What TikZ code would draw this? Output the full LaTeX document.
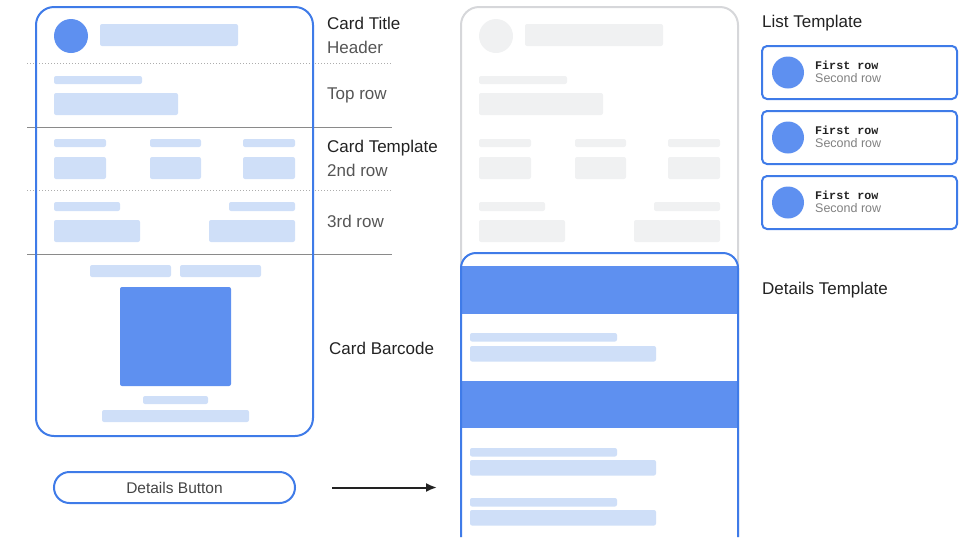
\documentclass[tikz,border=0pt]{standalone}
\usepackage{fontspec}
\setmainfont{Liberation Sans}
\setmonofont{Liberation Mono}
\usetikzlibrary{arrows.meta,positioning}
\definecolor{edgeblue}{HTML}{3F7BE8}
\definecolor{fillblue}{HTML}{5E90F0}
\definecolor{barblue}{HTML}{CFDFF8}
\definecolor{bargray}{HTML}{F0F1F2}
\definecolor{edgegray}{HTML}{D6D7DA}
\definecolor{rulegray}{HTML}{8A8A8A}
\definecolor{textdark}{HTML}{222222}
\definecolor{textsub}{HTML}{555555}
\tikzset{
  card/.style={draw=edgeblue,line width=2pt,rounded corners=18pt},
  bar/.style={rounded corners=2pt},
  sidetext/.style={anchor=west,inner sep=0pt,font=\fontsize{17}{20}\selectfont,text=textdark},
  sidesub/.style={sidetext,text=textsub},
  listitem/.style={draw=edgeblue,line width=2pt,rounded corners=5pt,minimum width=195pt,minimum height=53pt,inner sep=0pt},
  firsttext/.style={anchor=base west,inner sep=0pt,font=\ttfamily\bfseries\fontsize{11.7}{13}\selectfont,text=textdark},
  secondtext/.style={anchor=base west,inner sep=0pt,font=\fontsize{12.5}{14}\selectfont,text=gray},
  btn/.style={draw=edgeblue,line width=2pt,rounded corners=15.5pt,minimum width=241pt,minimum height=31pt,inner sep=0pt,font=\fontsize{15.5}{18}\selectfont,text=textsub!80!black},
}
% header, top row, 2nd row and 3rd row of a card
\newcommand{\cardrows}[2]{%
  \fill[#1] (71,36) circle (17pt);
  \fill[bar,#2] (100,24) rectangle (238,46);
  \fill[bar,#2] (54,76) rectangle (142,84);
  \fill[bar,#2] (54,93) rectangle (178,115);
  \foreach \xa/\xb in {54/106,150/201,243/295} {
    \fill[bar,#2] (\xa,139) rectangle (\xb,147);
    \fill[bar,#2] (\xa,157) rectangle (\xb,179);
  }
  \fill[bar,#2] (54,202) rectangle (120,211);
  \fill[bar,#2] (229,202) rectangle (295,211);
  \fill[bar,#2] (54,220) rectangle (140,242);
  \fill[bar,#2] (209,220) rectangle (295,242);
}

\begin{document}
\begin{tikzpicture}[x=1pt,y=-1pt]
\useasboundingbox (0,0) rectangle (980,558);

% section rules
\draw[dotted,rulegray!70,line width=1pt] (27,63) -- (392,63);
\draw[rulegray,line width=1pt] (27,127) -- (392,127);
\draw[dotted,rulegray!70,line width=1pt] (27,190) -- (392,190);
\draw[rulegray,line width=1pt] (27,254) -- (392,254);

% card
\draw[card] (36,7) rectangle (313,436);
\cardrows{fillblue}{barblue}
\fill[bar,barblue] (90,265) rectangle (171,277);
\fill[bar,barblue] (180,265) rectangle (261,277);
\fill[bar,fillblue] (120,287) rectangle (231,386);
\fill[bar,barblue] (143,396) rectangle (208,404);
\fill[bar,barblue] (102,410) rectangle (249,422);

% side labels
\node[sidetext] (title) at (327,23) {Card Title};
\node[sidesub] (header) at (327,47) {Header};
\node[sidesub] (toprow) at (327,95) {Top row};
\node[sidetext] (template) at (327,148) {Card Template};
\node[sidesub] (secondrow) at (327,170) {2nd row};
\node[sidesub] (thirdrow) at (327,221) {3rd row};
\node[sidetext] (barcode) at (329,348) {Card Barcode};

% details button
\node[btn] (button) at (174.5,487.5) {Details Button};
\coordinate (arrowtail) at (332,487.5);
\coordinate (arrowtip) at (437,487.5);
\draw[-{Latex[length=11pt,width=9pt]},line width=2pt,textdark] (arrowtail) -- (arrowtip);

% faded card behind
\draw[edgegray,line width=2pt,rounded corners=18pt] (461,537) -- (461,7) -- (738,7) -- (738,537);
\begin{scope}[xshift=425pt]
\cardrows{bargray}{bargray}
\end{scope}

% details card
\fill[white] (461,537) [rounded corners=15pt] -- (461,253) -- (738,253) [sharp corners] -- (738,537) -- cycle;
\fill[fillblue] (461,266) rectangle (738,314);
\fill[fillblue] (461,381) rectangle (738,428);
\foreach \ya in {333,448,498} {
  \fill[bar,barblue] (470,\ya) rectangle (617,\ya+8.5);
}
\foreach \ya in {346,460,510} {
  \fill[bar,barblue] (470,\ya) rectangle (656,\ya+15.5);
}
\draw[edgeblue,line width=2pt] (461,537) [rounded corners=15pt] -- (461,253) -- (738,253) [sharp corners] -- (738,537);

% list template
\node[sidetext] (listlabel) at (762,23) {List Template};
\foreach \i/\y in {1/72.5,2/137.5,3/202.5} {
  \node[listitem] (item\i) at (859.5,\y) {};
  \fill[fillblue] ([xshift=27pt]item\i.west) circle (16pt);
  \node[firsttext] (first\i) at ([xshift=54pt,yshift=3.5pt]item\i.west) {First row};
  \node[secondtext] (second\i) at ([xshift=54pt,yshift=-9.5pt]item\i.west) {Second row};
}
\node[sidetext] (detailslabel) at (762,290) {Details Template};
\end{tikzpicture}
\end{document}
